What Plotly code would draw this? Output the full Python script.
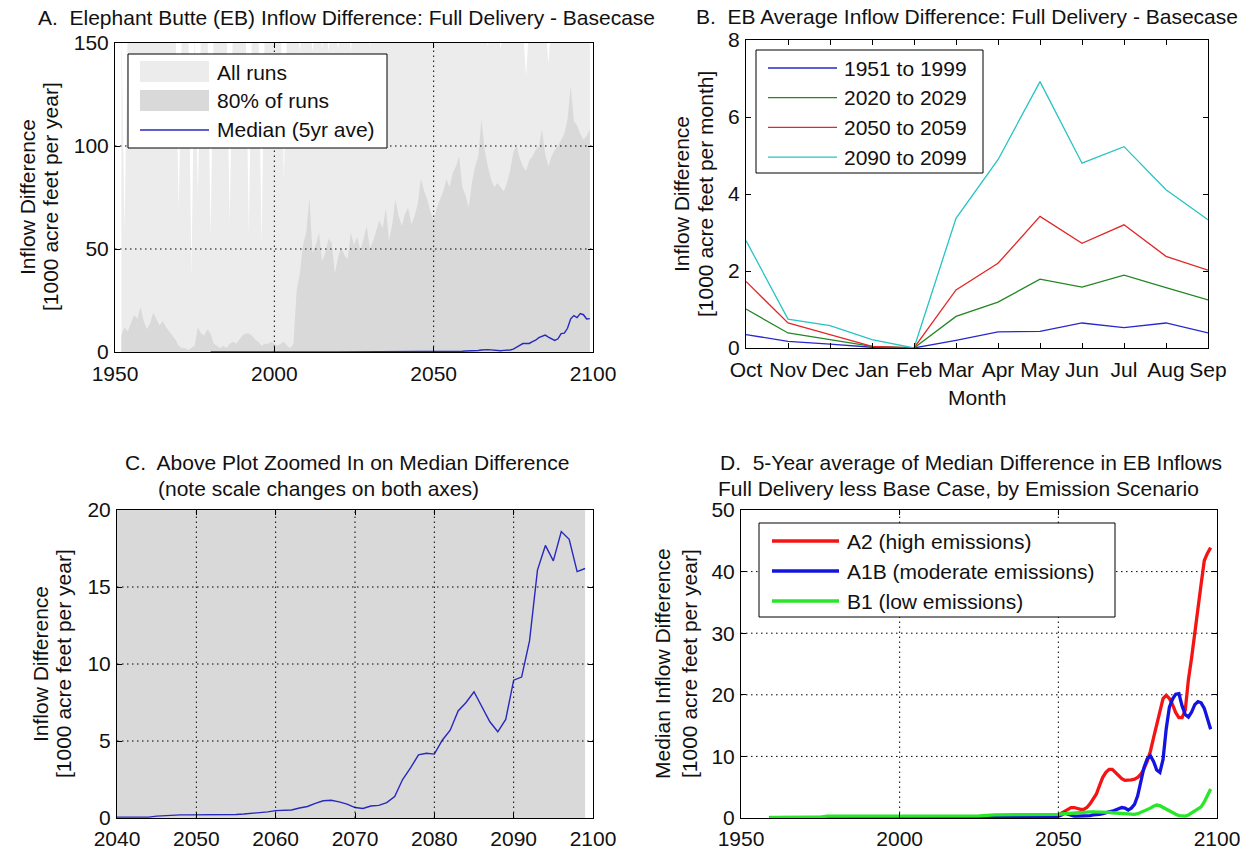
import plotly.graph_objects as go

W, H = 1258, 852
FONT = "Liberation Sans, Arial, sans-serif"
FS = 21

# ---------------- Panel A / C data ----------------
fill_years = list(range(1952, 2100))
all_runs_max = [
    160, 58, 160, 165, 158, 162, 160, 165, 160, 158,   # 1952-1961
    160, 162, 158, 160, 165, 160, 158, 160, 69, 160,   # 1962-1971
    162, 160, 36, 160, 75, 160, 158, 162, 55, 160,     # 1972-1981
    160, 160, 165, 160, 62, 160, 158, 160, 162, 160,   # 1982-1991
    57, 160, 158, 160, 52, 160, 162, 160, 158, 160,    # 1992-2001
    160, 83, 160, 158, 160, 162, 146, 160, 158, 160,   # 2002-2011
    146, 160, 162, 147, 160, 146, 160, 158, 147, 160,  # 2012-2021
    160, 162, 146, 160, 158, 160, 162, 160, 148, 160,  # 2022-2031
    158, 160, 162, 160, 160, 158, 160, 162, 160, 158,  # 2032-2041
    160, 162, 160, 158, 160, 160, 162, 160, 158, 160,  # 2042-2051
    160, 162, 160, 158, 160, 162, 160, 160, 158, 160,  # 2052-2061
    160, 162, 160, 158, 160, 148, 160, 162, 160, 147,  # 2062-2071
    160, 158, 160, 162, 160, 160, 158, 134, 160, 160,  # 2072-2081
    162, 160, 158, 160, 140, 160, 162, 160, 158, 160,  # 2082-2091
    160, 162, 160, 158, 160, 162, 160, 160,            # 2092-2099
]
runs_80pct_upper = [
    8, 12, 10, 14, 18, 16, 22, 15, 11, 14,             # 1952-1961
    19, 16, 13, 15, 12, 10, 8, 6, 3, 2,                # 1962-1971
    2, 1, 2, 3, 12, 9, 8, 11, 9, 4,                    # 1972-1981
    3, 2, 3, 2, 4, 5, 4, 6, 8, 9,                      # 1982-1991
    9, 8, 6, 5, 3, 4, 4, 5, 4, 3,                      # 1992-2001
    4, 5, 3, 2, 4, 30, 38, 52, 58, 75,                 # 2002-2011
    48, 52, 58, 44, 48, 55, 53, 38, 46, 51,            # 2012-2021
    47, 45, 58, 52, 56, 49, 55, 61, 50, 54,            # 2022-2031
    59, 64, 60, 70, 54, 62, 74, 66, 61, 67,            # 2032-2041
    70, 62, 66, 72, 84, 78, 74, 68, 64, 70,            # 2042-2051
    74, 78, 84, 80, 87, 90, 95, 80, 76, 70,            # 2052-2061
    82, 90, 95, 113, 98, 90, 84, 80, 82, 80,           # 2062-2071
    78, 82, 88, 97, 100, 94, 90, 88, 93, 95,           # 2072-2081
    98, 100, 108, 96, 90, 95, 98, 100, 103, 106,       # 2082-2091
    113, 129, 112, 110, 106, 103, 105, 108,            # 2092-2099
]
median_years = list(range(1980, 2100))
median_5yr = [
    0.02, 0.03, 0.03, 0.02, 0.02, 0.03, 0.04, 0.03, 0.02, 0.02,   # 1980-1989
    0.02, 0.02, 0.03, 0.03, 0.02, 0.02, 0.02, 0.03, 0.03, 0.02,   # 1990-1999
    0.02, 0.02, 0.03, 0.03, 0.03, 0.03, 0.03, 0.03, 0.04, 0.04,   # 2000-2009
    0.04, 0.04, 0.04, 0.04, 0.04, 0.04, 0.04, 0.04, 0.04, 0.04,   # 2010-2019
    0.04, 0.04, 0.04, 0.04, 0.04, 0.04, 0.04, 0.04, 0.05, 0.05,   # 2020-2029
    0.05, 0.05, 0.05, 0.05, 0.05, 0.05, 0.05, 0.05, 0.05, 0.05,   # 2030-2039
    0.05, 0.05, 0.05, 0.05, 0.06, 0.12, 0.16, 0.18, 0.2, 0.2,     # 2040-2049
    0.2, 0.2, 0.21, 0.22, 0.22, 0.23, 0.26, 0.3, 0.34, 0.4,       # 2050-2059
    0.48, 0.5, 0.52, 0.65, 0.75, 0.95, 1.12, 1.15, 1.05, 0.9,     # 2060-2069
    0.68, 0.62, 0.78, 0.82, 1.0, 1.4, 2.5, 3.25, 4.1, 4.2,        # 2070-2079
    4.15, 5.05, 5.7, 6.95, 7.5, 8.2, 7.2, 6.25, 5.6, 6.4,         # 2080-2089
    8.95, 9.15, 11.5, 16.1, 17.7, 16.7, 18.6, 18.1, 16.0, 16.2,   # 2090-2099
]

# ---------------- Panel B data ----------------
months = ["Oct", "Nov", "Dec", "Jan", "Feb", "Mar", "Apr", "May", "Jun", "Jul", "Aug", "Sep"]
period_labels = ["1951 to 1999", "2020 to 2029", "2050 to 2059", "2090 to 2099"]
b_1951_1999 = [0.35, 0.17, 0.10, 0.02, 0.0, 0.20, 0.42, 0.43, 0.65, 0.53, 0.65, 0.39]
b_2020_2029 = [1.01, 0.39, 0.22, 0.04, 0.0, 0.82, 1.19, 1.79, 1.58, 1.89, 1.57, 1.25]
b_2050_2059 = [1.73, 0.65, 0.35, 0.04, 0.0, 1.51, 2.20, 3.42, 2.72, 3.20, 2.38, 2.02]
b_2090_2099 = [2.79, 0.75, 0.58, 0.22, 0.0, 3.37, 4.89, 6.92, 4.80, 5.23, 4.11, 3.33]

# ---------------- Panel D data ----------------
d_years = [1959, 1965, 1970, 1975, 1977, 1980, 1985, 1990, 1995, 2000, 2005, 2010,
           2015, 2020, 2025, 2030, 2035, 2038, 2040, 2042, 2044, 2046, 2048] + list(range(2049, 2099))
scenario_labels = ["A2 (high emissions)", "A1B (moderate emissions)", "B1 (low emissions)"]
d_a2 = [0.05, 0.05, 0.05, 0.05, 0.1, 0.1, 0.1, 0.1, 0.1, 0.1, 0.1, 0.1,
        0.1, 0.1, 0.15, 0.2, 0.2, 0.3, 0.5, 0.4, 0.3, 0.3, 0.4,
        0.45, 0.5, 0.8, 1.1, 1.4, 1.7, 1.7, 1.5, 1.4, 1.4,
        1.7, 2.3, 3.0, 3.9, 5.3, 6.6, 7.4, 7.9, 7.9, 7.4,
        6.9, 6.4, 6.1, 6.1, 6.2, 6.3, 6.6, 7.1, 8.0, 9.2,
        10.8, 13.0, 15.3, 17.5, 19.4, 19.9, 19.4, 18.4, 17.1, 16.3,
        16.3, 17.5, 22.5, 26.0, 30.5, 34.0, 38.0, 41.8, 43.0, 43.9]
d_a1b = [0.05, 0.05, 0.05, 0.05, 0.05, 0.05, 0.05, 0.05, 0.05, 0.05, 0.05, 0.05,
         0.05, 0.05, 0.05, 0.1, 0.1, 0.1, 0.1, 0.1, 0.15, 0.15, 0.2,
         0.2, 0.3, 0.5, 0.8, 0.6, 0.4, 0.3, 0.3, 0.3, 0.3,
         0.4, 0.4, 0.5, 0.5, 0.6, 0.7, 0.9, 1.0, 1.1, 1.3,
         1.6, 1.7, 1.6, 1.3, 1.6, 2.2, 3.6, 5.8, 8.2, 9.6,
         10.1, 9.2, 7.8, 7.4, 9.5, 14.5, 18.0, 19.3, 20.1, 20.2,
         18.2, 16.8, 16.4, 17.2, 18.4, 18.9, 18.7, 17.8, 16.2, 14.4]
d_b1 = [0.1, 0.1, 0.1, 0.1, 0.3, 0.3, 0.3, 0.3, 0.3, 0.3, 0.3, 0.3,
        0.3, 0.3, 0.35, 0.5, 0.5, 0.5, 0.5, 0.5, 0.5, 0.5, 0.55,
        0.6, 0.6, 0.65, 0.7, 0.75, 0.8, 0.85, 0.9, 0.95, 1.0,
        1.0, 1.0, 1.0, 1.0, 1.0, 1.0, 0.95, 0.9, 0.85, 0.8,
        0.75, 0.7, 0.65, 0.6, 0.6, 0.6, 0.7, 0.9, 1.1, 1.3,
        1.6, 1.9, 2.1, 2.0, 1.7, 1.4, 1.1, 0.8, 0.6, 0.4,
        0.3, 0.3, 0.5, 0.8, 1.1, 1.4, 1.8, 2.6, 3.6, 4.7]

# ---------------- tick definitions ----------------
a_xticks = [1950, 2000, 2050, 2100]
a_yticks = [0, 50, 100, 150]
b_yticks = [0, 2, 4, 6, 8]
c_xticks = [2040, 2050, 2060, 2070, 2080, 2090, 2100]
c_yticks = [0, 5, 10, 15, 20]
d_xticks = [1950, 2000, 2050, 2100]
d_yticks = [0, 10, 20, 30, 40, 50]

# ---------------- styles ----------------
C_ALL = "rgb(236,236,236)"
C_80 = "rgb(217,217,217)"
C_MED = "rgb(40,40,190)"
B_COLORS = ["rgb(40,40,205)", "rgb(35,135,35)", "rgb(225,40,40)", "rgb(40,195,195)"]
D_COLORS = ["rgb(245,20,20)", "rgb(20,20,225)", "rgb(40,230,40)"]


def px(x):
    return x / W


def py(y):
    return 1 - y / H


fig = go.Figure()

# Panel A and C share the same series
for xa, ya in (("x", "y"), ("x3", "y3")):
    fig.add_trace(go.Scatter(x=fill_years, y=all_runs_max, mode="none", fill="tozeroy",
                             fillcolor=C_ALL, xaxis=xa, yaxis=ya, hoverinfo="skip"))
    fig.add_trace(go.Scatter(x=fill_years, y=runs_80pct_upper, mode="none", fill="tozeroy",
                             fillcolor=C_80, xaxis=xa, yaxis=ya, hoverinfo="skip"))
    fig.add_trace(go.Scatter(x=median_years, y=median_5yr, mode="lines",
                             line=dict(color=C_MED, width=1.4), xaxis=xa, yaxis=ya))

# Panel B
for vals, col in zip([b_1951_1999, b_2020_2029, b_2050_2059, b_2090_2099], B_COLORS):
    fig.add_trace(go.Scatter(x=months, y=vals, mode="lines", line=dict(color=col, width=1.3),
                             xaxis="x2", yaxis="y2"))

# Panel D
for vals, col in zip([d_a2, d_a1b, d_b1], D_COLORS):
    fig.add_trace(go.Scatter(x=d_years, y=vals, mode="lines", line=dict(color=col, width=3.3),
                             xaxis="x4", yaxis="y4"))

axis_common = dict(showline=True, linecolor="black", linewidth=1, mirror="ticks",
                   ticks="inside", ticklen=5, tickcolor="black", showgrid=False,
                   zeroline=False, automargin=False,
                   tickfont=dict(family=FONT, size=FS, color="#111"))
XTOP = dict(ticklabelstandoff=3, **axis_common)
XBOT = dict(ticklabelstandoff=2, **axis_common)
YAX = dict(ticklabelstandoff=1, **axis_common)

fig.update_layout(
    width=W, height=H, margin=dict(l=0, r=0, t=0, b=0, pad=0, autoexpand=False),
    paper_bgcolor="white", plot_bgcolor="white", showlegend=False,
    font=dict(family=FONT, size=FS, color="#111"),
    xaxis=dict(domain=[px(115), px(593)], anchor="y", range=[1950, 2100],
               tickmode="array", tickvals=a_xticks, **XTOP),
    yaxis=dict(domain=[py(352), py(43)], anchor="x", range=[0, 150],
               tickmode="array", tickvals=a_yticks, **YAX),
    xaxis2=dict(domain=[px(746), px(1208)], anchor="y2", type="category",
                range=[0, 11], **XTOP),
    yaxis2=dict(domain=[py(348), py(40)], anchor="x2", range=[0, 8],
                tickmode="array", tickvals=b_yticks, **YAX),
    xaxis3=dict(domain=[px(117), px(593)], anchor="y3", range=[2040, 2100],
                tickmode="array", tickvals=c_xticks, **XBOT),
    yaxis3=dict(domain=[py(818), py(510)], anchor="x3", range=[0, 20],
                tickmode="array", tickvals=c_yticks, **YAX),
    xaxis4=dict(domain=[px(741), px(1217)], anchor="y4", range=[1950, 2100],
                tickmode="array", tickvals=d_xticks, **XBOT),
    yaxis4=dict(domain=[py(818), py(510)], anchor="x4", range=[0, 50],
                tickmode="array", tickvals=d_yticks, **YAX),
)

shapes = []
GRID = dict(color="black", width=1, dash="1.5px,3.5px")


def add_grid(xref, yref, xt, yt, layer):
    for v in xt[1:-1]:
        shapes.append(dict(type="line", xref=xref, yref=yref + " domain", x0=v, x1=v,
                           y0=0, y1=1, line=GRID, layer=layer))
    for v in yt[1:-1]:
        shapes.append(dict(type="line", xref=xref + " domain", yref=yref, x0=0, x1=1,
                           y0=v, y1=v, line=GRID, layer=layer))


add_grid("x", "y", a_xticks, a_yticks, "above")
add_grid("x3", "y3", c_xticks, c_yticks, "above")
add_grid("x4", "y4", d_xticks, d_yticks, "below")

annotations = []


def text(t, x, y, xanchor="left", angle=0):
    annotations.append(dict(text=t, x=px(x), y=py(y), xref="paper", yref="paper",
                            xanchor=xanchor, yanchor="middle", showarrow=False,
                            textangle=angle, borderpad=0,
                            font=dict(family=FONT, size=FS, color="#111")))


def box(x0, y0, x1, y1):
    shapes.append(dict(type="rect", xref="paper", yref="paper", x0=px(x0), x1=px(x1),
                       y0=py(y1), y1=py(y0), fillcolor="white",
                       line=dict(color="black", width=1), layer="above"))


# Legend A
box(128, 54, 387, 148)
shapes.append(dict(type="rect", xref="paper", yref="paper", x0=px(140), x1=px(209),
                   y0=py(82), y1=py(61), fillcolor=C_ALL, line=dict(width=0), layer="above"))
shapes.append(dict(type="rect", xref="paper", yref="paper", x0=px(140), x1=px(209),
                   y0=py(111), y1=py(90), fillcolor=C_80, line=dict(width=0), layer="above"))
shapes.append(dict(type="line", xref="paper", yref="paper", x0=px(140), x1=px(209),
                   y0=py(130), y1=py(130), line=dict(color=C_MED, width=1.4), layer="above"))
text("All runs", 216, 72)
text("80% of runs", 216, 101)
text("Median (5yr ave)", 216, 130)

# Legend B
box(756, 50, 983, 173)
for i, (lab, col) in enumerate(zip(period_labels, B_COLORS)):
    yy = 68 + i * 29.7
    shapes.append(dict(type="line", xref="paper", yref="paper", x0=px(768), x1=px(837),
                       y0=py(yy), y1=py(yy), line=dict(color=col, width=1.3), layer="above"))
    text(lab, 843, yy)

# Legend D
box(759, 523, 1115, 617)
for i, (lab, col) in enumerate(zip(scenario_labels, D_COLORS)):
    yy = 541 + i * 30
    shapes.append(dict(type="line", xref="paper", yref="paper", x0=px(772), x1=px(839),
                       y0=py(yy), y1=py(yy), line=dict(color=col, width=3.3), layer="above"))
    text(lab, 846, yy)

# Titles
text("A.  Elephant Butte (EB) Inflow Difference: Full Delivery - Basecase", 37, 18)
text("B.  EB Average Inflow Difference: Full Delivery - Basecase", 695, 16)
text("C.  Above Plot Zoomed In on Median Difference", 124, 462)
text("(note scale changes on both axes)", 157, 488)
text("D.  5-Year average of Median Difference in EB Inflows", 719, 462)
text("Full Delivery less Base Case, by Emission Scenario", 717, 488)

# Axis titles
text("Inflow Difference", 28, 197, "center", -90)
text("[1000 acre feet per year]", 51, 197, "center", -90)
text("Inflow Difference", 681, 194, "center", -90)
text("[1000 acre feet per month]", 705, 194, "center", -90)
text("Month", 977, 397, "center")
text("Inflow Difference", 40, 664, "center", -90)
text("[1000 acre feet per year]", 63, 664, "center", -90)
text("Median Inflow Difference", 662, 664, "center", -90)
text("[1000 acre feet per year]", 689, 664, "center", -90)

fig.update_layout(shapes=shapes, annotations=annotations)

fig.write_html("out.html", config={"displayModeBar": False},
               post_script="document.body.style.margin='0px';")
